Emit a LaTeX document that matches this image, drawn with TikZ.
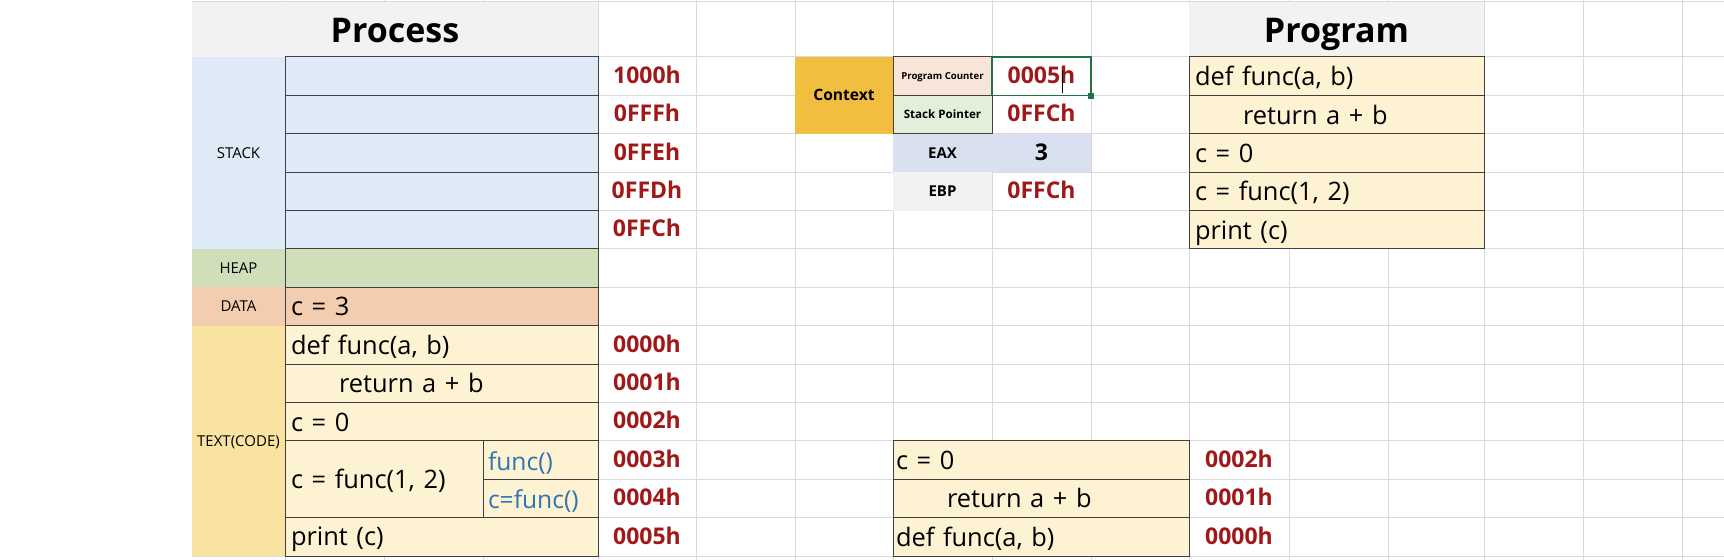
\documentclass[tikz,border=0pt]{standalone}
\usepackage{fontspec}
\setmainfont{Open Sans}
\newfontfamily\codefont{Open Sans}[WordSpace=1.3]
\usepackage{tikz}

\definecolor{gridgray}{HTML}{DADADA}
\definecolor{celledge}{HTML}{404040}
\definecolor{headgray}{HTML}{F2F2F3}
\definecolor{stackblue}{HTML}{DFEAF7}
\definecolor{heapgreen}{HTML}{D0DFBA}
\definecolor{datapeach}{HTML}{F2CDB0}
\definecolor{textyellow}{HTML}{F9E3A1}
\definecolor{codecream}{HTML}{FDF2D2}
\definecolor{ctxgold}{HTML}{F2BE3F}
\definecolor{pcfill}{HTML}{F9E5D8}
\definecolor{spfill}{HTML}{E3EEDB}
\definecolor{eaxfill}{HTML}{D9E1F1}
\definecolor{addrred}{HTML}{A01818}
\definecolor{opblue}{HTML}{2E74B5}
\definecolor{selgreen}{HTML}{217346}

\begin{document}
\begin{tikzpicture}[x=0.5pt, y=-0.5pt,
  every node/.style={inner sep=0pt, outer sep=0pt},
  gridline/.style={draw=gridgray, line width=0.5pt},
  cellbox/.style={draw=celledge, line width=0.5pt},
  title/.style={anchor=base, font=\fontsize{17}{20}\selectfont\bfseries},
  seglabel/.style={anchor=base, font=\fontsize{7.5}{9}\selectfont},
  code/.style={anchor=base west, font=\codefont\fontsize{12.7}{15}\selectfont},
  opcode/.style={anchor=base west, text=opblue, font=\codefont\fontsize{12.3}{15}\selectfont},
  addr/.style={anchor=base, text=addrred, font=\fontsize{11.5}{14}\selectfont\bfseries},
  regname/.style={anchor=base, font=\fontsize{7.5}{9}\selectfont\bfseries}]
\useasboundingbox (0,0) rectangle (1724,560);

% sheet grid
\foreach \x in {285,384,483,598,696,795,893,992,1091,1189,1289,1388,1484,1583,1682}
  \draw[gridline] (\x,0) -- (\x,560);
\draw[gridline] (192,1.5) -- (1724,1.5);
\foreach \k in {0,...,13}
  \draw[gridline] (192,{57+38.4*\k}) -- (1724,{57+38.4*\k});

% process
\fill[headgray] (192,2) rectangle (598,57);
\node[title] (process) at (395,43) {Process};

\fill[stackblue] (192,57) rectangle (285,249);
\node[seglabel] (stack) at (238.5,158.5) {STACK};
\foreach \k in {0,...,4}
  \draw[cellbox, fill=stackblue] (285,{57+38.4*\k}) rectangle (598,{95.4+38.4*\k});
\foreach \a [count=\i] in {1000h,0FFFh,0FFEh,0FFDh,0FFCh}
  \node[addr] (saddr\i) at (647,{45+38.4*\i}) {\a};

\fill[heapgreen] (192,249) rectangle (285,287.4);
\node[seglabel] (heap) at (238.5,273.5) {HEAP};
\draw[cellbox, fill=heapgreen] (285,249) rectangle (598,287.4);

\fill[datapeach] (192,287.4) rectangle (285,325.8);
\node[seglabel] (data) at (238.5,312) {DATA};
\draw[cellbox, fill=datapeach] (285,287.4) rectangle (598,325.8);
\node[code] (cdata) at (291,315.8) {c = 3};

\fill[textyellow] (192,325.8) rectangle (285,556.2);
\node[seglabel] (textseg) at (238.5,446.5) {TEXT(CODE)};
\draw[cellbox, fill=codecream] (285,325.8) rectangle (598,364.2);
\draw[cellbox, fill=codecream] (285,364.2) rectangle (598,402.6);
\draw[cellbox, fill=codecream] (285,402.6) rectangle (598,441);
\draw[cellbox, fill=codecream] (285,441) rectangle (483,517.8);
\draw[cellbox, fill=codecream] (483,441) rectangle (598,479.4);
\draw[cellbox, fill=codecream] (483,479.4) rectangle (598,517.8);
\draw[cellbox, fill=codecream] (285,517.8) rectangle (598,556.2);
\node[code] (tdef) at (291,354.5) {def func(a, b)};
\node[code] (tret) at (339,392.9) {return a + b};
\node[code] (tczero) at (291,431.3) {c = 0};
\node[code] (tcall) at (291,488.4) {c = func(1, 2)};
\node[opcode] (tfunc) at (488,470.6) {func()};
\node[opcode] (tassign) at (488,509) {c=func()};
\node[code] (tprint) at (291,546) {print (c)};
\foreach \i in {0,...,5}
  \node[addr] (taddr\i) at (647,{352.2+38.4*\i}) {000\i h};

% context
\fill[ctxgold] (795,57) rectangle (893,133.8);
\node[regname, font=\fontsize{7.8}{9}\selectfont\bfseries] (context) at (844,101) {Context};
\draw[cellbox, fill=pcfill] (893,57) rectangle (992,95.4);
\node[regname, font=\fontsize{4.8}{6}\selectfont\bfseries] (pc) at (942.5,80) {Program Counter};
\draw[cellbox, fill=spfill] (893,95.4) rectangle (992,133.8);
\node[regname, font=\fontsize{5.8}{7}\selectfont\bfseries] (sp) at (942.5,118.4) {Stack Pointer};
\fill[eaxfill] (893,133.8) rectangle (1091,172.2);
\node[regname] (eax) at (942.5,158.3) {EAX};
\fill[headgray] (893,172.2) rectangle (992,210.6);
\node[regname] (ebp) at (942.5,196.7) {EBP};
\draw[selgreen, line width=0.8pt] (992,57) rectangle (1091,95.4);
\fill[selgreen] (1088,93) rectangle (1094,99);
\node[addr] (pcval) at (1041.5,83.4) {0005h};
\draw[black, line width=0.6pt] (1062.7,70.7) -- (1062.7,92.7);
\node[addr] (spval) at (1041.5,121.8) {0FFCh};
\node[addr, text=black] (eaxval) at (1041.5,160.2) {3};
\node[addr] (ebpval) at (1041.5,198.6) {0FFCh};

% program
\fill[headgray] (1189,2) rectangle (1484,57);
\node[title] (program) at (1336.5,43) {Program};
\foreach \k in {0,...,4}
  \draw[cellbox, fill=codecream] (1189,{57+38.4*\k}) rectangle (1484,{95.4+38.4*\k});
\node[code] (pdef) at (1195,85.7) {def func(a, b)};
\node[code] (pret) at (1243,124.1) {return a + b};
\node[code] (pczero) at (1195,162.5) {c = 0};
\node[code] (pcall) at (1195,200.9) {c = func(1, 2)};
\node[code] (pprint) at (1195,239.3) {print (c)};

% call stack
\draw[cellbox, fill=codecream] (893,441) rectangle (1189,479.4);
\draw[cellbox, fill=codecream] (893,479.4) rectangle (1189,517.8);
\draw[cellbox, fill=codecream] (893,517.8) rectangle (1189,556.2);
\node[code] (kczero) at (896,469.4) {c = 0};
\node[code] (kret) at (947,507.8) {return a + b};
\node[code] (kdef) at (896,546.2) {def func(a, b)};
\node[addr] (kaddr2) at (1239,467.4) {0002h};
\node[addr] (kaddr1) at (1239,505.8) {0001h};
\node[addr] (kaddr0) at (1239,544.2) {0000h};
\end{tikzpicture}
\end{document}
